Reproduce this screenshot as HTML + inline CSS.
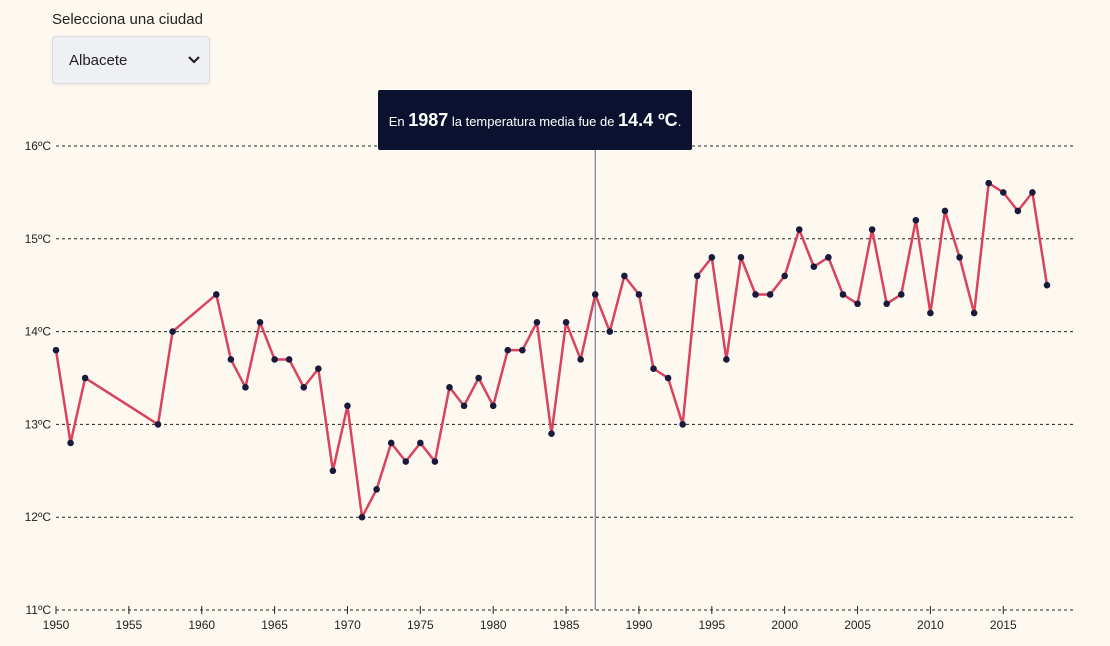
<!DOCTYPE html>
<html><head><meta charset="utf-8">
<style>
body{margin:0;background:#fdf9f1;width:1110px;height:646px;overflow:hidden;font-family:"Liberation Sans Narrow","Liberation Sans",sans-serif;}
#lbl{position:absolute;left:52px;top:11px;font-size:15px;color:#222;}
#sel{position:absolute;left:52px;top:36px;width:158px;height:48px;background:#eff0f4;border:1px solid #dcdce0;border-radius:4px;box-sizing:border-box;box-shadow:0 1px 3px rgba(0,0,0,0.08);}
#sel span{position:absolute;left:16px;top:15px;font-size:15px;color:#222;}
#sel svg{position:absolute;right:8px;top:18px;}
#tip{position:absolute;left:378px;top:90px;width:314px;height:60px;background:#0d1130;color:#fff;font-size:13px;text-align:center;line-height:60px;border-radius:2px;}
#tip b{font-size:18px;}
</style></head><body>
<div id="lbl">Selecciona una ciudad</div>
<div id="sel"><span>Albacete</span>
<svg width="14" height="10"><path d="M2 2 L7 7 L12 2" stroke="#222" stroke-width="2.2" fill="none"/></svg></div>
<svg id="chart" width="1110" height="646" style="position:absolute;left:0;top:0"></svg>
<div id="tip">En <b>1987</b> la temperatura media fue de <b>14.4 ºC</b>.</div>
<script>
const years=[1950,1951,1952,1957,1958,1961,1962,1963,1964,1965,1966,1967,1968,1969,1970,1971,1972,1973,1974,1975,1976,1977,1978,1979,1980,1981,1982,1983,1984,1985,1986,1987,1988,1989,1990,1991,1992,1993,1994,1995,1996,1997,1998,1999,2000,2001,2002,2003,2004,2005,2006,2007,2008,2009,2010,2011,2012,2013,2014,2015,2016,2017,2018];
const temps=[13.8,12.8,13.5,13.0,14.0,14.4,13.7,13.4,14.1,13.7,13.7,13.4,13.6,12.5,13.2,12.0,12.3,12.8,12.6,12.8,12.6,13.4,13.2,13.5,13.2,13.8,13.8,14.1,12.9,14.1,13.7,14.4,14.0,14.6,14.4,13.6,13.5,13.0,14.6,14.8,13.7,14.8,14.4,14.4,14.6,15.1,14.7,14.8,14.4,14.3,15.1,14.3,14.4,15.2,14.2,15.3,14.8,14.2,15.6,15.5,15.3,15.5,14.5];
const yTicks=[11,12,13,14,15,16];
const xTicks=[1950,1955,1960,1965,1970,1975,1980,1985,1990,1995,2000,2005,2010,2015];
const hoverYear=1987;
const NS="http://www.w3.org/2000/svg";
const svg=document.getElementById('chart');
const x=v=>56+(v-1950)*(1047-56)/68;
const y=v=>610-(v-11)*(610-146)/5;
function mk(t,a){const e=document.createElementNS(NS,t);for(const k in a)e.setAttribute(k,a[k]);svg.appendChild(e);return e;}
yTicks.forEach(t=>{
  const l=mk('line',{x1:56,x2:1076,y1:y(t),y2:y(t),stroke:'#222','stroke-width':1,'stroke-dasharray':'3,3'});
  
  
  const tx=mk('text',{x:51,y:y(t)+4,'text-anchor':'end','font-size':12,fill:'#222'});
  tx.textContent=t+'ºC';
  
  
});
xTicks.forEach(t=>{
  const l=mk('line',{x1:x(t),x2:x(t),y1:606,y2:614,stroke:'#222','stroke-width':1});
  
  
  const tx=mk('text',{x:x(t),y:629,'text-anchor':'middle','font-size':12,fill:'#222'});
  tx.textContent=t;
  
  
});
const hl=mk('line',{x1:x(hoverYear),x2:x(hoverYear),y1:150,y2:610,stroke:'#5a5f88','stroke-width':1});


const p=mk('path',{d:years.map((v,i)=>(i?'L':'M')+x(v)+' '+y(temps[i])).join(' '),fill:'none',stroke:'#d9435e','stroke-width':2.5,'stroke-linejoin':'round'});


years.forEach((v,i)=>{
  const c=mk('circle',{cx:x(v),cy:y(temps[i]),r:3.3,fill:'#1a1a3a'});
  
  
});
</script>
</body></html>
